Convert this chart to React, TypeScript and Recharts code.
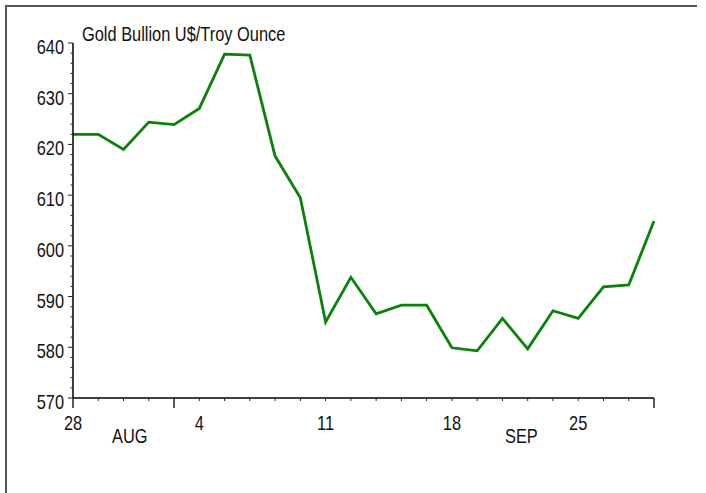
import React from 'react';
import { LineChart, Line, XAxis, YAxis } from 'recharts';

// Trading days (day of month) from late July through August
const dayLabels = ['28','31','1','2','3','4','7','8','9','10','11','14','15','16','17','18','21','22','23','24','25','28','29','30'];
const prices = [622.0, 622.0, 619.0, 624.4, 623.9, 627.1, 637.8, 637.6, 617.7, 609.5, 585.0, 593.8, 586.6, 588.3, 588.3, 579.9, 579.3, 585.7, 579.7, 587.2, 585.7, 591.9, 592.3, 604.9];
const labeledDays = [0, 5, 10, 15, 20];
const longTickDays = [0, 4, 23];
const monthLabels = ['AUG', 'SEP'];
const monthPositions = [2.25, 17.75];
const yTicks = [570,572,574,576,578,580,582,584,586,588,590,592,594,596,598,600,602,604,606,608,610,612,614,616,618,620,622,624,626,628,630,632,634,636,638,640];
const yLabelTicks = [570, 580, 590, 600, 610, 620, 630, 640];
const title = 'Gold Bullion U$/Troy Ounce';

const data = prices.map((p, i) => ({ i, day: dayLabels[i], price: p }));
const xTicks = dayLabels.map((_, i) => i);

const FONT = '"Liberation Sans", Arial, sans-serif';
const SX = 0.82;

const YTick = (props: any) => {
  const { x, y, payload } = props;
  const v = payload.value;
  const major = yLabelTicks.includes(v);
  return (
    <g>
      <line x1={x - (major ? 5 : 2.5)} x2={x} y1={y} y2={y} stroke="#222" strokeWidth={1} />
      {major && (
        <text transform={`translate(${x - 9},${y + 11}) scale(${SX},1)`} textAnchor="end" fontSize={20} fontFamily={FONT} fill="#111">
          {v}
        </text>
      )}
    </g>
  );
};

const XTick = (props: any) => {
  const { x, y, payload } = props;
  const idx = payload.value;
  const long = longTickDays.includes(idx);
  const show = labeledDays.includes(idx);
  return (
    <g>
      <line x1={x} x2={x} y1={y} y2={y + (long ? 10 : 3)} stroke="#222" strokeWidth={long ? 1.5 : 1} />
      {show && (
        <text transform={`translate(${x},${y + 32}) scale(${SX},1)`} textAnchor="middle" fontSize={20} fontFamily={FONT} fill="#111">
          {dayLabels[idx]}
        </text>
      )}
    </g>
  );
};

const MonthTick = (props: any) => {
  const { x, y, payload } = props;
  const k = monthPositions.indexOf(payload.value);
  return (
    <text transform={`translate(${x},${y + 44}) scale(${SX},1)`} textAnchor="middle" fontSize={20} fontFamily={FONT} fill="#111">
      {monthLabels[k]}
    </text>
  );
};

export default function App() {
  return (
    <div style={{ position: 'absolute', left: 0, top: 0, width: 706, height: 493, background: '#fff' }}>
      <LineChart width={706} height={493} data={data} margin={{ top: 43, right: 52, bottom: 93, left: 0 }}>
        <XAxis
          dataKey="i"
          type="number"
          domain={[0, 23]}
          ticks={xTicks}
          interval={0}
          height={1}
          tickSize={0}
          tickMargin={0}
          tickLine={false}
          axisLine={{ stroke: '#000', strokeWidth: 1.5 }}
          tick={<XTick />}
        />
        <XAxis
          xAxisId="m"
          dataKey="i"
          type="number"
          domain={[0, 23]}
          ticks={monthPositions}
          interval={0}
          height={1}
          tickSize={0}
          tickMargin={0}
          tickLine={false}
          axisLine={false}
          tick={<MonthTick />}
        />
        <YAxis
          type="number"
          domain={[570, 640]}
          ticks={yTicks}
          interval={0}
          width={73}
          tickSize={0}
          tickMargin={0}
          tickLine={false}
          axisLine={{ stroke: '#000', strokeWidth: 1.5 }}
          tick={<YTick />}
        />
        <Line type="linear" dataKey="price" stroke="#0a820a" strokeWidth={2.8} dot={false} isAnimationActive={false} />
      </LineChart>
      <svg width={706} height={493} style={{ position: 'absolute', left: 0, top: 0, pointerEvents: 'none' }}>
        <line x1={5} x2={697} y1={6} y2={6} stroke="#555" strokeWidth={2} />
        <line x1={6} x2={6} y1={5} y2={493} stroke="#555" strokeWidth={2} />
        <text transform={`translate(82,41) scale(${SX},1)`} fontSize={20} fontFamily={FONT} fill="#111">
          {title}
        </text>
      </svg>
    </div>
  );
}
